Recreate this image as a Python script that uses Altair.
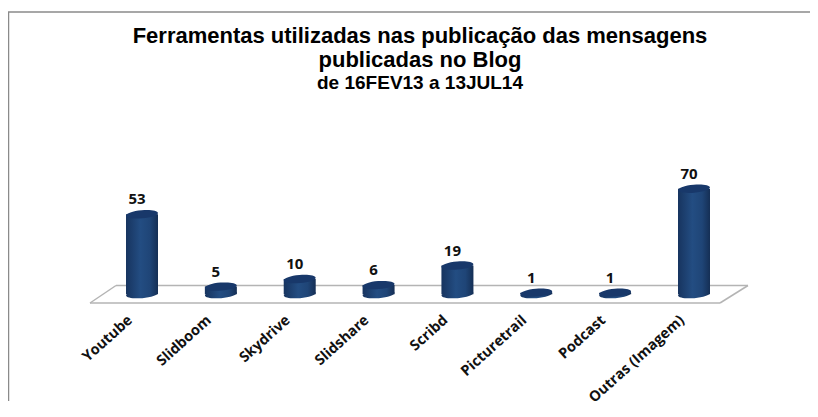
import altair as alt
import pandas as pd

categories = ["Youtube", "Slidboom", "Skydrive", "Slidshare", "Scribd", "Picturetrail", "Podcast", "Outras (Imagem)"]
values = [53, 5, 10, 6, 19, 1, 1, 70]
title_lines = ["Ferramentas utilizadas nas publicação das mensagens", "publicadas no Blog"]
subtitle_line = "de 16FEV13 a 13JUL14"

df = pd.DataFrame({"cat": categories, "v": values, "base": [0] * len(values)})

x = alt.X("cat:N", sort=categories,
          scale=alt.Scale(type="point", range=[134, 686], padding=0),
          axis=alt.Axis(title=None, domain=False, ticks=False, grid=False,
                        labelAngle=318, labelAlign="right", labelBaseline="middle",
                        labelFont="Open Sans", labelFontWeight="bold", labelFontSize=14.5,
                        labelColor="#111111", labelPadding=8, labelOverlap=False, labelOffset=-12))
yscale = alt.Scale(domain=[-10.53, 128.9], nice=False, zero=False)
y = alt.Y("v:Q", scale=yscale, axis=None)

grad = alt.Gradient(gradient="linear", x1=0, x2=1, y1=0, y2=0, stops=[
    alt.GradientStop(color="#17345f", offset=0),
    alt.GradientStop(color="#234d82", offset=0.45),
    alt.GradientStop(color="#1f4577", offset=0.75),
    alt.GradientStop(color="#152f55", offset=1),
])
ellipse = "M-1,0A1,0.25,0,1,1,1,0A1,0.25,0,1,1,-1,0Z"

def seg(x1, y1, x2, y2, color, w):
    return alt.Chart(df.head(1)).mark_rule(color=color, strokeWidth=w).encode(
        x=alt.value(x1), x2=alt.value(x2), y=alt.value(y1), y2=alt.value(y2))

def head(text, ypos, size):
    return alt.Chart(pd.DataFrame({"t": [text]})).mark_text(
        font="Liberation Sans", fontWeight="bold", fontSize=size, color="#000000", align="center", baseline="alphabetic"
    ).encode(x=alt.value(412), y=alt.value(ypos), text="t:N")

frame = [seg(0.5, -88, 0.5, 301, "#8a8a8a", 1.5), seg(0, -88, 802, -88, "#8a8a8a", 1.5)]
floor = [seg(108, 185.5, 740, 185.5, "#b4b4b4", 1.5), seg(82, 203, 712, 203, "#b4b4b4", 1.5),
         seg(82, 203, 108, 185.5, "#b4b4b4", 1.5), seg(712, 203, 740, 185.5, "#b4b4b4", 1.5)]
heads = [head(title_lines[0], -57, 22), head(title_lines[1], -33, 22), head(subtitle_line, -11, 19)]

base = alt.Chart(df)
bottom = base.mark_point(shape=ellipse, filled=True, fill=grad, size=1024, opacity=1, strokeWidth=0, angle=355).encode(
    x=x, y=alt.Y("base:Q", scale=yscale, axis=None))
bars = base.mark_bar(fill=grad, size=32).encode(x=x, y=y, y2="base:Q")
top = base.mark_point(shape=ellipse, filled=True, fill="#18386a", size=1024, opacity=1, strokeWidth=0, angle=355).encode(x=x, y=y)
labels = base.mark_text(font="Open Sans", fontWeight="bold", fontSize=15, color="#111111", dy=-15, dx=-5).encode(
    x=x, y=y, text="v:Q")

chart = alt.layer(*frame, *floor, *heads, bottom, bars, top, labels).properties(
    width=802, height=210,
    padding={"left": 0, "top": 92, "right": 0, "bottom": 99},
    autosize=alt.AutoSizeParams(type="none"),
).configure_view(stroke=None)

chart.save("out.html", embed_options={"renderer": "svg", "actions": False})
